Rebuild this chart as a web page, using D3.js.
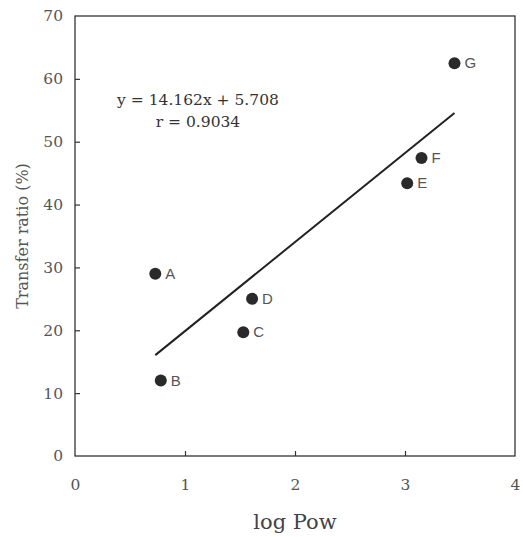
<!DOCTYPE html>
<html>
<head>
<meta charset="utf-8">
<script src="https://cdn.jsdelivr.net/npm/d3@7"></script>
<style>
  body { margin: 0; background: #fff; }
  svg text { font-family: "DejaVu Serif", serif; }
</style>
</head>
<body>
<div id="chart"></div>
<script>
const labels = ["A", "B", "C", "D", "E", "F", "G"];
const logPow = [0.73, 0.78, 1.53, 1.61, 3.02, 3.15, 3.45];
const transfer = [29.0, 12.0, 19.7, 25.0, 43.4, 47.4, 62.5];
const xTicks = [0, 1, 2, 3, 4];
const yTicks = [0, 10, 20, 30, 40, 50, 60, 70];
const slope = 14.162, intercept = 5.708;

const width = 523, height = 537;
const margin = { top: 16, right: 8, bottom: 81, left: 75 };

const svg = d3.select("#chart")
    .append("svg")
    .attr("width", width)
    .attr("height", height);

const x = d3.scaleLinear().domain([0, 4]).range([margin.left, width - margin.right]);
const y = d3.scaleLinear().domain([0, 70]).range([height - margin.bottom, margin.top]);

// frame
svg.append("rect")
    .attr("x", x(0))
    .attr("y", y(70))
    .attr("width", x(4) - x(0))
    .attr("height", y(0) - y(70))
    .attr("fill", "none")
    .attr("stroke", "#333")
    .attr("stroke-width", 1.3);

// axes with inward ticks
const xAxis = svg.append("g")
    .attr("transform", `translate(0,${y(0)})`)
    .call(d3.axisBottom(x).tickValues(xTicks).tickFormat(d3.format("d"))
        .tickSizeInner(-5).tickSizeOuter(0).tickPadding(23));
const yAxis = svg.append("g")
    .attr("transform", `translate(${x(0)},0)`)
    .call(d3.axisLeft(y).tickValues(yTicks).tickFormat(d3.format("d"))
        .tickSizeInner(-5).tickSizeOuter(0).tickPadding(12));

[xAxis, yAxis].forEach(g => {
    g.select(".domain").remove();
    g.selectAll(".tick line").attr("stroke", "#333").attr("stroke-width", 1.2);
    g.selectAll(".tick text")
        .attr("fill", "#555")
        .style("font-family", "DejaVu Serif, serif")
        .style("font-size", "15.5px");
});
xAxis.selectAll(".tick line").filter(d => d === 0 || d === 4).remove();
yAxis.selectAll(".tick line").filter(d => d === 0 || d === 70).remove();

// regression line
const xmin = d3.min(logPow), xmax = d3.max(logPow);
svg.append("line")
    .attr("x1", x(xmin))
    .attr("y1", y(slope * xmin + intercept))
    .attr("x2", x(xmax))
    .attr("y2", y(slope * xmax + intercept))
    .attr("stroke", "#222")
    .attr("stroke-width", 2);

// points
const pts = labels.map((l, i) => ({ label: l, x: logPow[i], y: transfer[i] }));
svg.selectAll(".pt")
    .data(pts)
    .enter()
    .append("circle")
    .attr("class", "pt")
    .attr("cx", d => x(d.x))
    .attr("cy", d => y(d.y))
    .attr("r", 6)
    .attr("fill", "#2a2a2a");

svg.selectAll(".lbl")
    .data(pts)
    .enter()
    .append("text")
    .attr("class", "lbl")
    .attr("x", d => x(d.x) + 10)
    .attr("y", d => y(d.y) + 5)
    .style("font-family", "Liberation Sans, Arial, sans-serif")
    .style("font-size", "15px")
    .attr("fill", "#555")
    .text(d => d.label);

// equation
svg.append("text")
    .attr("x", 198)
    .attr("y", 105)
    .attr("text-anchor", "middle")
    .style("font-size", "15.5px")
    .attr("fill", "#333")
    .text(`y = ${slope}x + ${intercept}`);
svg.append("text")
    .attr("x", 198)
    .attr("y", 127)
    .attr("text-anchor", "middle")
    .style("font-size", "15.5px")
    .attr("fill", "#333")
    .text("r = 0.9034");

// axis titles
svg.append("text")
    .attr("x", (x(0) + x(4)) / 2)
    .attr("y", 529)
    .attr("text-anchor", "middle")
    .style("font-size", "21px")
    .attr("fill", "#444")
    .text("log Pow");

svg.append("text")
    .attr("transform", `translate(28,${(y(0) + y(70)) / 2}) rotate(-90)`)
    .attr("text-anchor", "middle")
    .style("font-size", "16px")
    .attr("fill", "#555")
    .text("Transfer ratio (%)");
</script>
</body>
</html>
